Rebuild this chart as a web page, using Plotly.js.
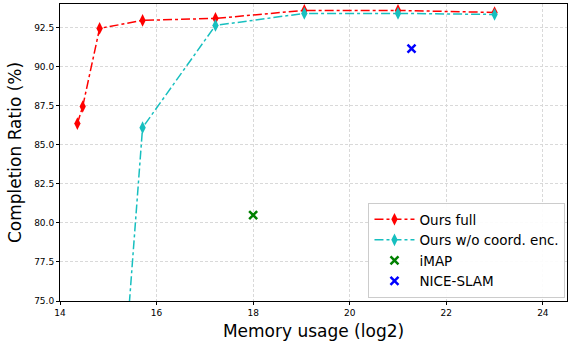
<!DOCTYPE html>
<html><head><meta charset="utf-8">
<script src="https://cdn.plot.ly/plotly-3.0.1.min.js"></script>
<style>html,body{margin:0;padding:0;background:#fff}#chart{width:568px;height:343px}</style>
</head><body><div id="chart"></div>
<script>
const fullX = [14.36, 14.47, 14.82, 15.71, 17.22, 19.06, 21.0, 23.0];
const fullY = [86.35, 87.44, 92.44, 92.95, 93.08, 93.59, 93.59, 93.46];
const noEncX = [14.82, 15.71, 17.22, 19.06, 21.0, 23.0];
const noEncY = [49.6, 86.09, 92.63, 93.40, 93.40, 93.33];
const imapX = [18.0], imapY = [80.5];
const niceX = [21.28], niceY = [91.15];

const traces = [
  {x: fullX, y: fullY, name: 'Ours full', mode: 'lines+markers', type: 'scatter',
   line: {color: 'red', dash: 'dashdot', width: 1.5},
   marker: {symbol: 'diamond-tall', size: 9, color: 'red'}},
  {x: noEncX, y: noEncY, name: 'Ours w/o coord. enc.', mode: 'lines+markers', type: 'scatter',
   line: {color: '#17bfbf', dash: 'dashdot', width: 1.5},
   marker: {symbol: 'diamond-tall', size: 9, color: '#17bfbf'}},
  {x: imapX, y: imapY, name: 'iMAP', mode: 'markers', type: 'scatter',
   marker: {symbol: 'x-thin', size: 8, color: 'green', line: {color: 'green', width: 2.5}}},
  {x: niceX, y: niceY, name: 'NICE-SLAM', mode: 'markers', type: 'scatter',
   marker: {symbol: 'x-thin', size: 8, color: 'blue', line: {color: 'blue', width: 2.5}}}
];

const layout = {
  width: 568, height: 343,
  margin: {l: 60, r: 1, t: 4, b: 42},
  paper_bgcolor: '#fff', plot_bgcolor: '#fff',
  font: {family: 'DejaVu Sans', color: '#000'},
  showlegend: true,
  legend: {x: 0.997, xanchor: 'right', y: 0.01, yanchor: 'bottom',
    bgcolor: 'rgba(255,255,255,0.9)', bordercolor: '#ccc', borderwidth: 1,
    font: {size: 13.5, family: 'DejaVu Sans'}, tracegroupgap: 0, itemwidth: 40},
  xaxis: {range: [14, 24.5], dtick: 2, tick0: 14, showgrid: true, gridcolor: '#d9d9d9', griddash: '3px,2px',
    zeroline: false, showline: true, linecolor: '#000', linewidth: 1, mirror: true,
    ticks: 'outside', ticklen: 3, tickcolor: '#000', tickfont: {size: 9},
    title: {text: 'Memory usage (log2)', font: {size: 17}, standoff: 8}},
  yaxis: {range: [75, 94.0], dtick: 2.5, tick0: 75, tickformat: '.1f', showgrid: true, gridcolor: '#d9d9d9', griddash: '3px,2px',
    zeroline: false, showline: true, linecolor: '#000', linewidth: 1, mirror: true,
    ticks: 'outside', ticklen: 3, tickcolor: '#000', tickfont: {size: 9},
    title: {text: 'Completion Ratio (%)', font: {size: 17}, standoff: 8}}
};
Plotly.newPlot('chart', traces, layout, {displayModeBar: false, staticPlot: true});
</script></body></html>
